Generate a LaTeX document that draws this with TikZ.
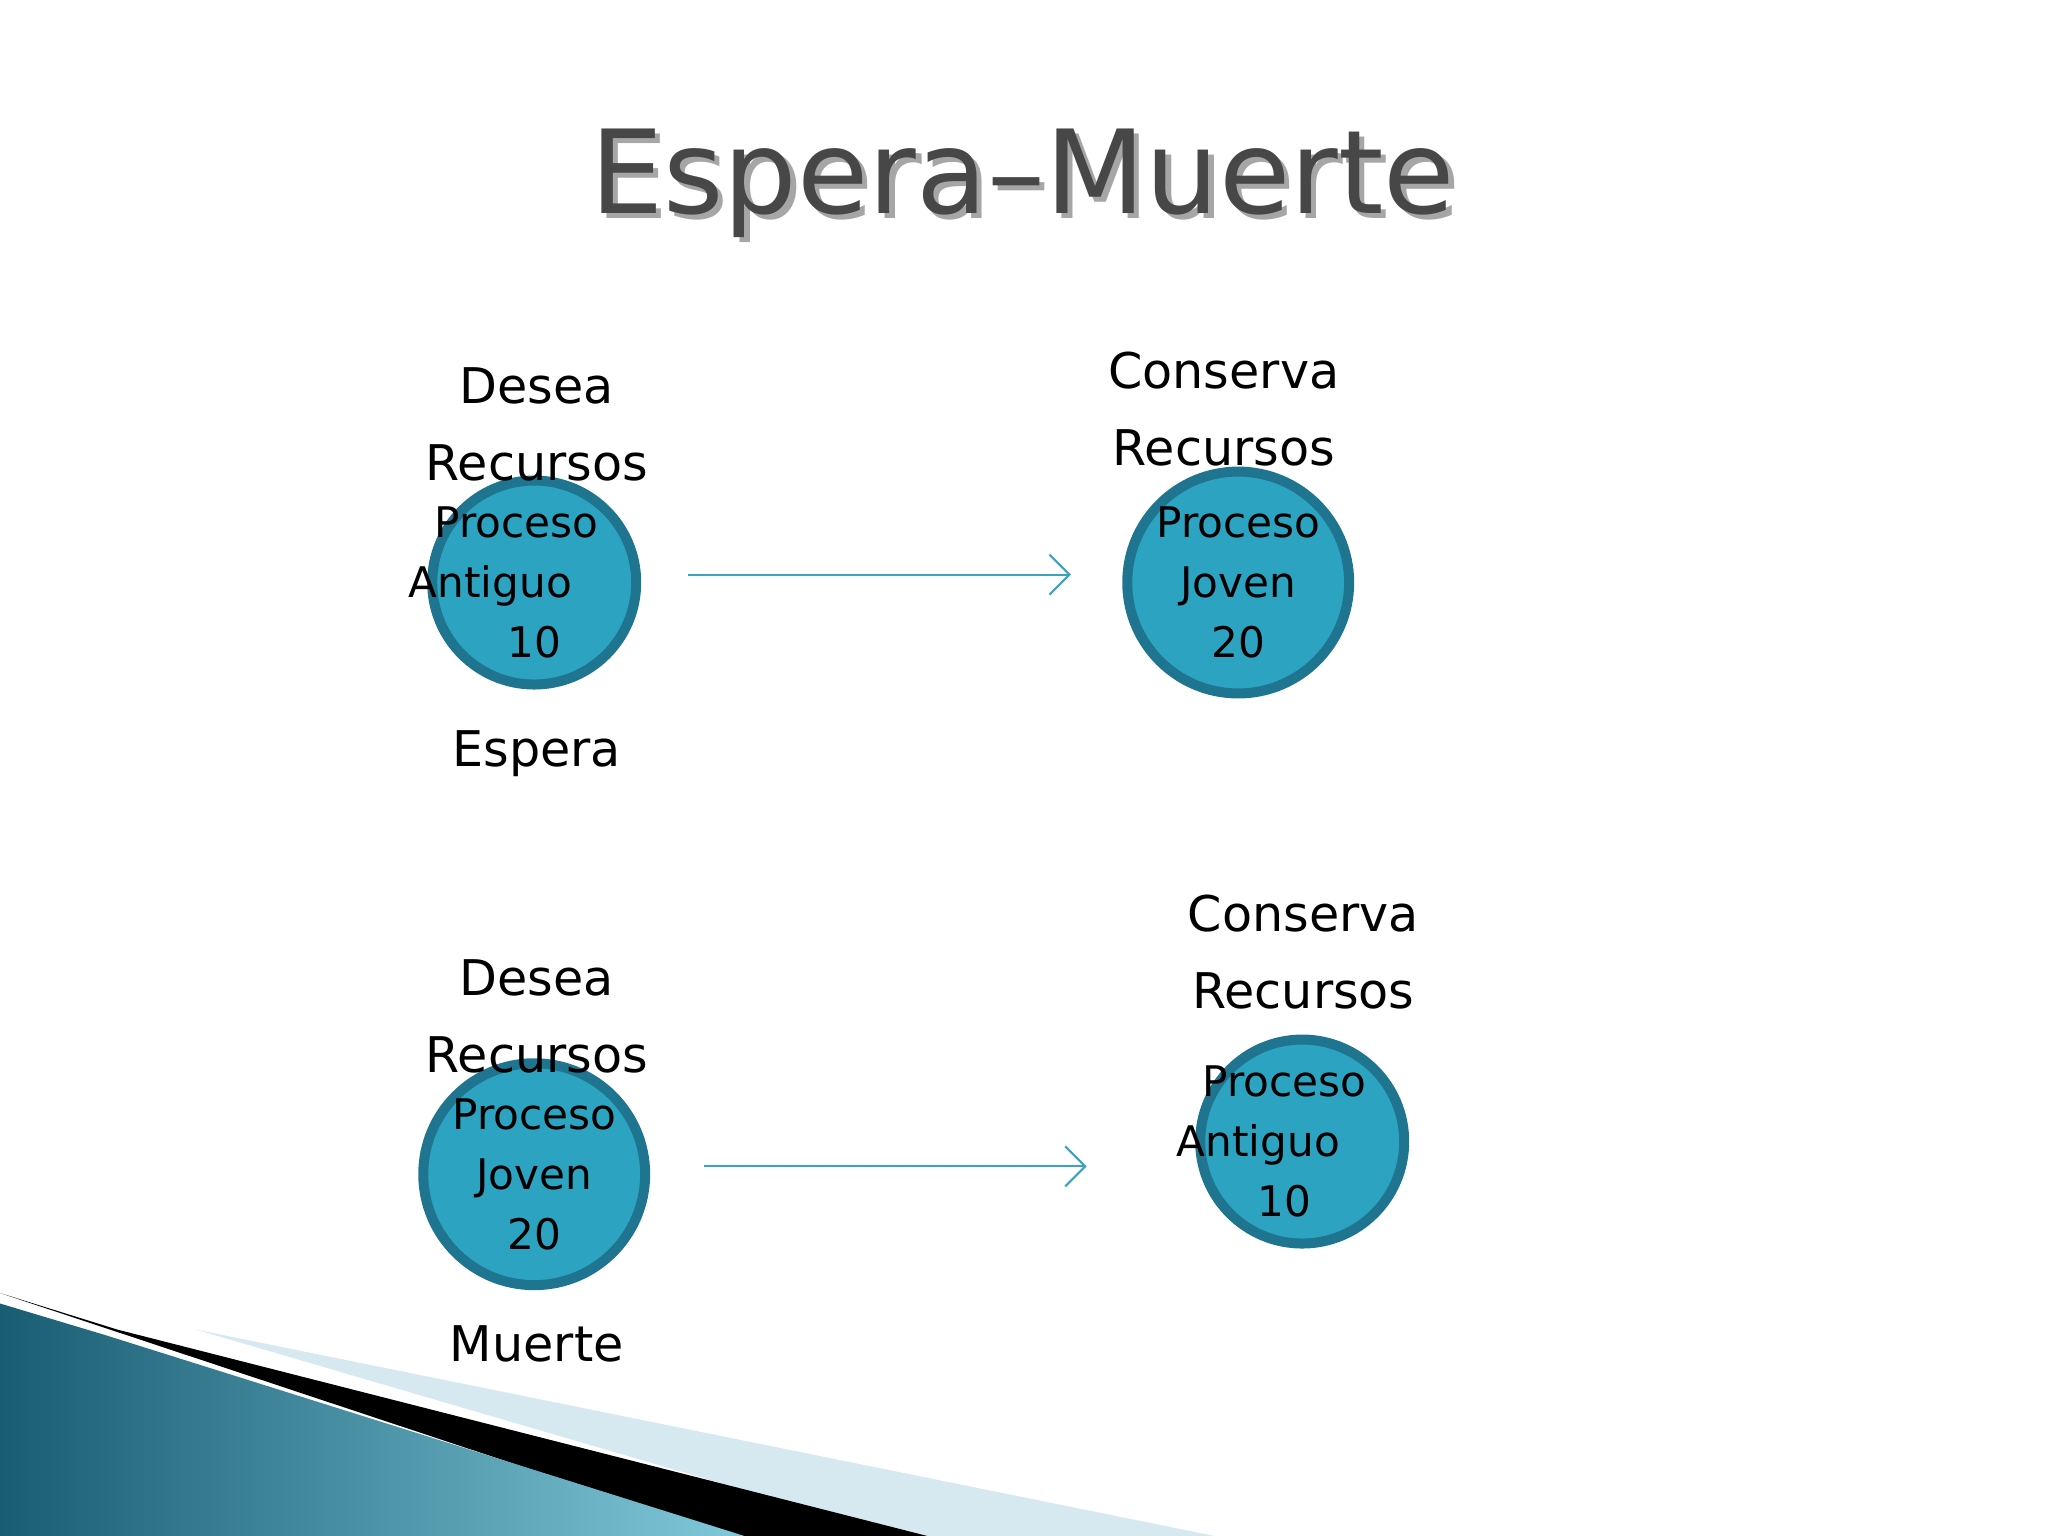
\documentclass[tikz,border=0pt]{standalone}
\usepackage{fontspec}
\setmainfont{DejaVu Sans}
\usetikzlibrary{arrows.meta}
\definecolor{cfill}{HTML}{2CA4C1}
\definecolor{cdraw}{HTML}{1F7490}
\definecolor{arr}{HTML}{3AA3C3}
\definecolor{band}{HTML}{D6E8F0}
\tikzset{
  proc/.style={circle,fill=cfill,draw=cdraw,line width=1mm,minimum size=2.04cm,inner sep=0pt,font=\fontsize{12}{17}\selectfont,align=center,text=black},
  lbl/.style={font=\fontsize{14}{22}\selectfont,align=center,text=black},
  conn/.style={draw=arr,line width=0.6pt,-{Straight Barb[length=2mm,width=4mm]}}
}
\begin{document}
\begin{tikzpicture}[x=0.013061cm,y=-0.013061cm]
\useasboundingbox (0,0) rectangle (1568,1176);
% decoration
\fill[band] (150,1018) -- (930,1176) -- (690,1176) -- cycle;
\fill[black] (0,990) -- (90,1018) -- (710,1176) -- (560,1176) -- cycle;
\shade[left color=cdraw!80!black,right color=cfill!60!white] (0,998) -- (80,1022) -- (570,1176) -- (0,1176) -- cycle;
% title
\node[font=\fontsize{33}{36}\selectfont,text=black!35] at (787,144) {Espera–Muerte};
\node[font=\fontsize{33}{36}\selectfont,text=black!72] (title) at (783,140) {Espera–Muerte};
% top
\node[proc] (a) at (409,446) {\hspace*{-10pt}Proceso\\\hspace*{-25pt}Antiguo\\10};
\node[proc] (b) at (948,446) {Proceso\\Joven\\20};
\node[lbl] (la) at (411,325) {Desea\\Recursos};
\node[lbl] (lb) at (937,313) {Conserva\\Recursos};
\node[lbl] (ea) at (411,577) {Espera};
\coordinate (a1) at (527,440);
\coordinate (b1) at (820,440);
\draw[conn] (a1) -- (b1);
% bottom
\node[proc] (c) at (409,899) {Proceso\\Joven\\20};
\node[proc] (d) at (997,874) {\hspace*{-10pt}Proceso\\\hspace*{-25pt}Antiguo\\\hspace*{-10pt}10};
\node[lbl] (lc) at (411,778) {Desea\\Recursos};
\node[lbl] (ld) at (998,729) {Conserva\\Recursos};
\node[lbl] (mc) at (411,1029) {Muerte};
\coordinate (c1) at (539,893);
\coordinate (d1) at (832,893);
\draw[conn] (c1) -- (d1);
\end{tikzpicture}
\end{document}
